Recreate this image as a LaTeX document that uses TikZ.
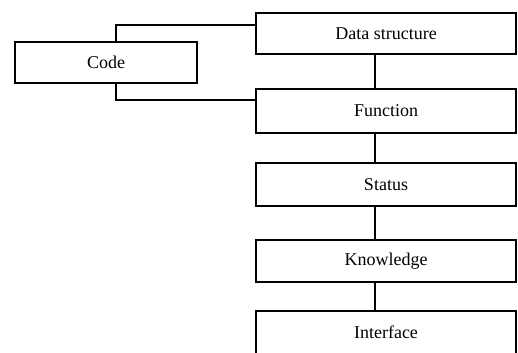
\documentclass[tikz,border=0pt]{standalone}
\usepackage{fontspec}
\setmainfont{Liberation Serif}
\tikzset{
  block/.style={draw, line width=1.5pt, inner sep=0pt, minimum width=195pt,
    font=\fontsize{13.5}{15}\selectfont},
  link/.style={line width=1.5pt}
}
\begin{document}
\begin{tikzpicture}[x=0.75pt, y=-0.75pt]
    \useasboundingbox (0,0) rectangle (518,353);

    % left box
    \node[block, minimum width=136.5pt, minimum height=30.75pt] (code) at (106,62.5) {Code};

    % right column
    \node[block, minimum height=30.75pt] (data) at (386,33.5) {Data structure};
    \node[block, minimum height=33pt] (func) at (386,111) {Function};
    \node[block, minimum height=32.25pt] (status) at (386,184.5) {Status};
    \node[block, minimum height=31.5pt] (know) at (386,261) {Knowledge};
    \node[block, minimum height=33pt] (iface) at (386,332.5) {Interface};

    % connectors
    \coordinate (spine) at (375,0);
    \coordinate (codeup) at (116,25);
    \coordinate (codedn) at (116,100);
    \draw[link] (code.north -| codeup) -- (codeup) -- (data.west |- codeup);
    \draw[link] (code.south -| codedn) -- (codedn) -- (func.west |- codedn);
    \draw[link] (data.south -| spine) -- (func.north -| spine);
    \draw[link] (func.south -| spine) -- (status.north -| spine);
    \draw[link] (status.south -| spine) -- (know.north -| spine);
    \draw[link] (know.south -| spine) -- (iface.north -| spine);
\end{tikzpicture}
\end{document}
